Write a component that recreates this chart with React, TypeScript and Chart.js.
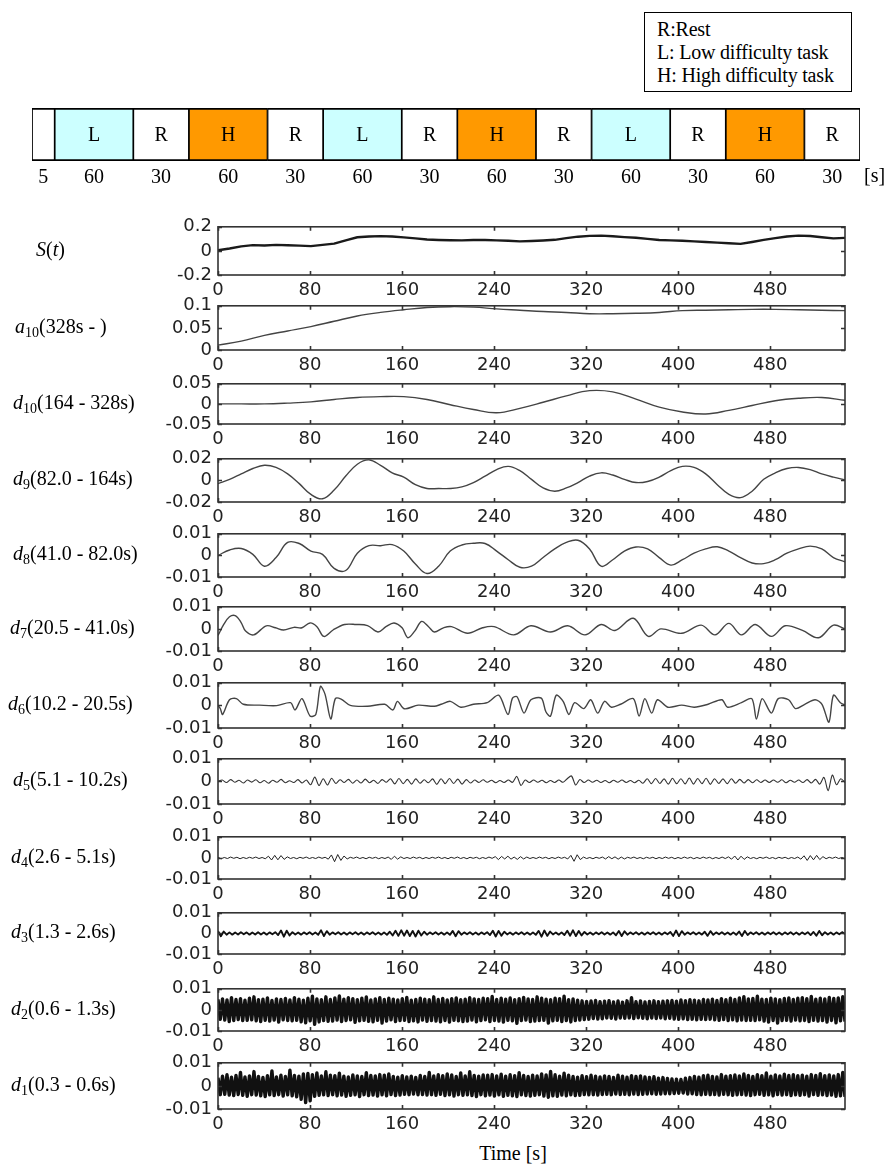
import React, { useEffect, useRef } from 'react';
import { Chart, registerables } from 'chart.js';

Chart.register(...registerables);

// ---------------- data ----------------
const X_MAX = 545;
const xTickValues = [0, 80, 160, 240, 320, 400, 480];

const taskTypes = ['', 'L', 'R', 'H', 'R', 'L', 'R', 'H', 'R', 'L', 'R', 'H', 'R'];
const taskDurations = [5, 60, 30, 60, 30, 60, 30, 60, 30, 60, 30, 60, 30];
const legendLines = ['R:Rest', 'L: Low difficulty task', 'H: High difficulty task'];

// S(t) raw signal (uniformly spaced over 0..545 s)
const sValues = [0.005,0.02,0.038,0.048,0.045,0.05,0.047,0.044,0.04,0.05,0.06,0.088,0.113,0.12,0.123,0.119,0.112,0.104,0.095,0.091,0.089,0.087,0.09,0.091,0.087,0.084,0.079,0.082,0.086,0.092,0.106,0.118,0.125,0.127,0.121,0.114,0.109,0.1,0.091,0.087,0.084,0.079,0.074,0.069,0.064,0.058,0.074,0.091,0.106,0.119,0.127,0.124,0.113,0.104,0.108];

const a10Values = [0.011,0.02,0.033,0.043,0.053,0.065,0.077,0.085,0.091,0.096,0.098,0.097,0.093,0.09,0.087,0.085,0.082,0.082,0.083,0.085,0.089,0.09,0.091,0.092,0.092,0.091,0.09,0.089];

const d10Values = [0,0,0,0.002,0.005,0.011,0.016,0.018,0.018,0.011,-0.002,-0.014,-0.022,-0.011,0.004,0.02,0.033,0.03,0.012,-0.008,-0.02,-0.025,-0.016,-0.004,0.008,0.014,0.016,0.009];

const d9Values = [-0.003,0.001,0.006,0.011,0.014,0.012,0.006,-0.003,-0.013,-0.017,-0.009,0.004,0.015,0.019,0.014,0.007,0.003,-0.004,-0.0075,-0.0075,-0.0075,-0.006,-0.002,0.004,0.01,0.013,0.009,0.001,-0.007,-0.01,-0.007,-0.002,0.004,0.007,0.005,0.001,-0.002,-0.001,0.003,0.009,0.013,0.012,0.006,-0.004,-0.013,-0.016,-0.01,0.001,0.007,0.011,0.012,0.01,0.006,0.003,0.0005];

const d8Values = [0,0.0025,0.0032,0.0005,-0.005,-0.001,0.006,0.0055,0.002,0.0005,-0.006,-0.007,0.001,0.0045,0.0045,0.005,0.002,-0.004,-0.0084,-0.005,0.002,0.0048,0.0056,0.0055,0.002,-0.002,-0.0055,-0.005,-0.001,0.003,0.006,0.007,0.003,-0.005,-0.002,0.002,0.0039,0.003,-0.001,-0.0045,-0.002,0.001,0.003,0.004,0.002,-0.001,-0.0035,-0.0038,-0.002,0.001,0.003,0.0043,0.003,-0.001,-0.003];

const d7Times = [0,5,10,15,20,24,31,42,50,57,66,73,80,86,92,100,110,120,130,139,146,153,160,165,171,177,183,188,196,203,217,230,240,257,272,289,304,319,333,345,361,374,385,403,420,432,444,455,467,481,493,508,522,535,545];
const d7Values = [-0.003,0.002,0.0055,0.006,0.003,-0.001,-0.0027,0.0014,0.0005,-0.0005,0.0007,0.0005,0.0027,0.001,-0.0034,-0.0005,0.002,0.002,0.0015,-0.0014,0.001,0.0027,0.0005,-0.004,-0.001,0.0034,0.001,-0.0014,0.0005,0.001,-0.002,0.0005,0.001,-0.0027,0.0014,-0.0014,0.0014,-0.0027,0.002,-0.0007,0.0048,-0.0034,0,-0.002,0.0017,-0.0027,0.0025,-0.0027,0.002,-0.0034,0.0014,-0.0007,-0.004,0.0017,0];

const d6Times = [0,2,4,10,16,22,36,51,63,67,73,80,85,89,93,98,102,107,115,130,145,152,156,162,174,188,194,202,211,222,234,244,252,256,260,266,272,281,285,289,294,300,305,310,318,324,330,336,342,350,361,366,371,377,382,391,403,414,426,438,443,455,464,468,473,481,487,496,502,510,519,525,531,535,541,545];
const d6Values = [0,-0.0014,-0.004,0.0025,0.003,0.0005,0.0001,-0.0001,0.0012,-0.002,0.003,-0.0047,-0.004,0.0084,0.005,-0.006,0.003,0.0028,0,-0.0004,0.0005,-0.002,0.0018,-0.0015,0.0001,-0.0004,0.0005,0.0018,-0.0008,0.0005,0.0012,0.0045,-0.004,0.0032,0.0038,-0.0034,0.0025,0.0032,-0.0028,-0.0047,0.0045,0.0018,-0.004,0.0012,-0.0014,0.0025,-0.0034,0.0018,-0.0008,0.0005,0.003,-0.0047,0.003,-0.0034,0.0025,-0.0008,0.0001,-0.0008,0.0005,0.0025,-0.0008,0.0012,0.003,-0.006,0.003,-0.0034,0.003,0.0025,-0.0014,0.0005,0.0025,0.0005,-0.0074,0.0045,0.0012,0.0001];

const d5Values = [
  0,0.0006,-0.0005,0.0008,-0.0004,0.0005,-0.0007,0.0006,-0.0003,0.0007,-0.0006,0.0004,-0.0008,0.0005,-0.0004,0.0009,-0.0006,0.0003,-0.0005,0.0008,-0.0007,0.0006,
  -0.0015,0.0019,-0.0018,0.0012,-0.0016,0.0014,-0.0009,
  0.0007,-0.0005,0.0009,-0.0008,0.0006,-0.0007,0.001,-0.0006,0.0005,-0.0009,0.0008,-0.0004,
  0.0012,-0.0011,0.0013,-0.001,0.0009,-0.0012,0.0011,-0.0008,0.0007,-0.0006,
  0.0011,-0.0013,0.0012,-0.001,0.0013,-0.0009,0.001,-0.0012,0.0008,-0.0007,
  0.0006,-0.0005,0.0007,-0.0004,0.0005,-0.0006,0.0004,-0.0005,0.0006,-0.0004,
  0.0022,-0.0018,0.0006,
  -0.0005,0.0006,-0.0004,0.0005,-0.0006,0.0004,-0.0005,0.0006,-0.0004,
  0.0012,0.0024,-0.0016,0.0008,
  -0.0005,0.0006,-0.0004,0.0005,-0.0005,0.0004,-0.0006,0.0005,-0.0004,0.0006,-0.0005,0.0004,-0.0006,0.0005,
  -0.0008,0.0012,-0.001,0.0013,-0.0009,0.0011,-0.0012,0.0014,-0.001,0.0012,-0.0011,0.0015,-0.0012,0.0013,-0.001,0.0014,-0.0013,0.0012,-0.0009,0.0011,-0.001,0.0012,-0.0008,0.0009,-0.0007,0.0008,-0.0006,0.0007,-0.0005,0.0006,
  -0.0005,0.0006,-0.0004,0.0007,-0.0006,0.0005,-0.0004,0.0006,-0.0005,0.0008,-0.0007,0.0009,
  -0.0012,0.0018,-0.0041,0.0028,-0.0015,0.0012,-0.0005
];

const d4Values = [
  0.0003,-0.0004,0.0002,-0.0003,0.0004,-0.0002,0.0003,-0.0004,0.0002,-0.0003,
  0.0003,-0.0002,0.0004,-0.0003,0.0002,-0.0004,0.0008,-0.001,0.0012,-0.0009,
  0.0011,-0.0007,0.0005,-0.0003,0.0002,-0.0004,0.0003,-0.0002,0.0004,-0.0003,
  0.0002,-0.0003,0.0004,-0.0002,0.0003,-0.0006,0.0014,-0.0018,0.0016,-0.0012,
  0.0009,-0.0005,0.0003,-0.0002,0.0004,-0.0003,0.0002,-0.0004,0.0003,-0.0002,
  0.0003,-0.0004,0.0002,-0.0003,0.0004,-0.0007,0.0008,-0.0006,0.0005,-0.0003,
  0.0002,-0.0003,0.0004,-0.0002,0.0003,-0.0004,0.0002,-0.0003,0.0003,-0.0002,
  0.0004,-0.0003,0.0002,-0.0004,0.0003,-0.0002,0.0004,-0.0003,0.0002,-0.0004,
  0.0003,-0.0002,0.0003,-0.0004,0.0002,-0.0003,0.0004,-0.0002,0.0006,-0.0008,
  0.0007,-0.0005,0.0008,-0.0006,0.0004,-0.0007,0.0006,-0.0005,0.0004,-0.0003,
  0.0002,-0.0003,0.0004,-0.0002,0.0003,-0.0004,0.0002,-0.0003,0.0004,-0.0002,
  0.0003,-0.0005,0.0012,-0.0016,0.0015,-0.0008,0.0004,-0.0003,0.0002,-0.0004,
  0.0003,-0.0002,0.0004,-0.0005,0.0006,-0.0004,0.0005,-0.0006,0.0004,-0.0005,
  0.0003,-0.0002,0.0004,-0.0003,0.0002,-0.0004,0.0003,-0.0002,0.0003,-0.0004,
  0.0002,-0.0003,0.0004,-0.0002,0.0003,-0.0004,0.0002,-0.0003,0.0004,-0.0002,
  0.0003,-0.0004,0.0002,-0.0003,0.0004,-0.0002,0.0003,-0.0004,0.0002,-0.0003,
  0.0004,-0.0003,0.0005,-0.0006,0.0009,-0.001,0.0008,-0.0007,0.0005,-0.0003,
  0.0002,-0.0004,0.0003,-0.0002,0.0004,-0.0003,0.0002,-0.0004,0.0003,-0.0002,
  0.0003,-0.0004,0.0002,-0.0003,0.0004,-0.0006,0.001,-0.0012,0.0011,-0.0009,
  0.0012,-0.0008,0.0006,-0.0004,0.0003,-0.0002,0.0004,-0.0003,0.0002,-0.0003
];

const d3Values = [
  0.0012,-0.0014,0.0009,-0.0006,0.0005,-0.0006,0.0004,-0.0005,0.0006,-0.0004,
  0.0005,-0.0006,0.0004,-0.0005,0.0006,-0.0005,0.0004,-0.0006,0.0005,-0.0004,
  0.0006,-0.0008,0.0014,-0.0016,0.0013,-0.001,0.0006,-0.0005,0.0004,-0.0006,
  0.0005,-0.0004,0.0006,-0.0005,0.0004,-0.0007,0.0015,-0.0013,0.0011,-0.0006,
  0.0005,-0.0004,0.0006,-0.0005,0.0004,-0.0006,0.0005,-0.0004,0.0006,-0.0005,
  0.0004,-0.0006,0.0005,-0.0004,0.0006,-0.0005,0.0004,-0.0006,0.0005,-0.0007,
  0.0008,-0.001,0.0013,-0.0012,0.0015,-0.0011,0.0014,-0.0013,0.0012,-0.0015,
  0.0013,-0.001,0.0008,-0.0006,0.0005,-0.0004,0.0006,-0.0005,0.0004,-0.0006,
  0.0005,-0.0007,0.0012,-0.0014,0.0011,-0.0006,0.0005,-0.0004,0.0006,-0.0005,
  0.0004,-0.0006,0.0005,-0.0004,0.0006,-0.0008,0.0013,-0.0015,0.0012,-0.0011,
  0.0008,-0.0005,0.0004,-0.0006,0.0005,-0.0004,0.0006,-0.0005,0.0004,-0.0006,
  0.0005,-0.0007,0.0012,-0.0016,0.0014,-0.0012,0.0009,-0.0005,0.0004,-0.0006,
  0.0005,-0.0008,0.0013,-0.0011,0.0015,-0.0013,0.0012,-0.001,0.0007,-0.0005,
  0.0004,-0.0006,0.0005,-0.0004,0.0006,-0.0005,0.0004,-0.0006,0.0005,-0.0009,
  0.0012,-0.0013,0.001,-0.0006,0.0005,-0.0004,0.0006,-0.0005,0.0004,-0.0006,
  0.0005,-0.0004,0.0006,-0.0005,0.0004,-0.0006,0.0005,-0.0004,0.0007,-0.0012,
  0.0014,-0.0013,0.0011,-0.0006,0.0005,-0.0004,0.0006,-0.0005,0.0004,-0.0006,
  0.0008,-0.0012,0.0011,-0.0007,0.0005,-0.0004,0.0006,-0.0005,0.0004,-0.0006,
  0.0005,-0.0007,0.0009,-0.0013,0.0012,-0.0008,0.0005,-0.0004,0.0006,-0.0005,
  0.0004,-0.0006,0.0005,-0.0004,0.0006,-0.0005,0.0004,-0.0006,0.0005,-0.0004,
  0.0006,-0.0005,0.0004,-0.0006,0.0005,-0.0004,0.0006,-0.0008,0.0007,-0.0011,
  0.0012,-0.0009,0.0006,-0.0005,0.0004,-0.0006,0.0005,-0.0004,0.0006,-0.0003
];

const d2Values = [
  0.005,-0.0045,0.0052,-0.0048,0.0047,-0.0055,0.0058,-0.005,0.0049,-0.0046,
  0.0053,-0.0051,0.0046,-0.0049,0.0055,-0.0047,0.0062,-0.0052,0.0048,-0.0055,
  0.0051,-0.0049,0.0057,-0.0053,0.0045,-0.0048,0.0052,-0.0058,0.0049,-0.0047,
  0.0054,-0.005,0.0047,-0.0052,0.0058,-0.0049,0.0051,-0.0056,0.0046,-0.0061,
  0.0055,-0.0052,0.0065,-0.0068,0.0052,-0.0057,0.0048,-0.0051,0.0062,-0.0054,
  0.0049,-0.0053,0.0057,-0.0048,0.0066,-0.0055,0.0051,-0.005,0.0058,-0.0047,
  0.0053,-0.0059,0.0048,-0.0052,0.0056,-0.0049,0.0061,-0.0054,0.0047,-0.0056,
  0.0052,-0.0049,0.0058,-0.0062,0.0049,-0.0053,0.0055,-0.0047,0.0051,-0.0055,
  0.0047,-0.0051,0.0053,-0.0049,0.0059,-0.0055,0.0046,-0.0052,0.005,-0.0057,
  0.0056,-0.0048,0.0051,-0.0054,0.0048,-0.0051,0.0062,-0.0053,0.0049,-0.0056,
  0.0054,-0.005,0.0047,-0.0058,0.0053,-0.0049,0.0057,-0.0052,0.0048,-0.0055,
  0.0051,-0.0053,0.0058,-0.0048,0.0052,-0.0056,0.0049,-0.0051,0.0055,-0.0047,
  0.0053,-0.0055,0.0064,-0.005,0.0049,-0.0053,0.0056,-0.0058,0.0051,-0.0049,
  0.0057,-0.0052,0.0048,-0.0064,0.0053,-0.0051,0.0059,-0.0048,0.0052,-0.0055,
  0.0049,-0.0053,0.0062,-0.0051,0.0055,-0.0049,0.0051,-0.0062,0.0048,-0.0052,
  0.0056,-0.0049,0.0053,-0.0055,0.0065,-0.0051,0.0048,-0.0057,0.0052,-0.005,
  0.0046,-0.0048,0.0043,-0.0046,0.004,-0.0044,0.0042,-0.0041,0.0045,-0.0043,
  0.0039,-0.0042,0.0041,-0.0038,0.0044,-0.004,0.0038,-0.0043,0.0042,-0.0039,
  0.0037,-0.004,0.0043,-0.0038,0.0058,-0.0041,0.0039,-0.0037,0.0042,-0.004,
  0.0038,-0.0042,0.004,-0.0039,0.0043,-0.0041,0.0039,-0.0038,0.0041,-0.0042,
  0.0043,-0.004,0.0045,-0.0043,0.0041,-0.0045,0.0047,-0.0042,0.0044,-0.0046,
  0.0048,-0.0044,0.0046,-0.0047,0.0043,-0.0045,0.005,-0.0046,0.0047,-0.0044,
  0.0051,-0.0047,0.0045,-0.0049,0.0053,-0.0046,0.0048,-0.0051,0.0055,-0.0047,
  0.0049,-0.0052,0.0057,-0.0048,0.0063,-0.005,0.0052,-0.0049,0.0054,-0.0051,
  0.0065,-0.0047,0.0051,-0.0053,0.0049,-0.0058,0.0056,-0.005,0.0052,-0.0062,
  0.0048,-0.0051,0.0054,-0.0049,0.0057,-0.0053,0.005,-0.0048,0.0055,-0.0052,
  0.0058,-0.005,0.0053,-0.0055,0.0064,-0.0049,0.0051,-0.0053,0.0056,-0.0051,
  0.0052,-0.0058,0.0059,-0.005,0.0054,-0.0061,0.0057,-0.0052,0.0063,-0.0055
];

const d1Values = [
  0.0035,-0.0038,0.0042,-0.0036,0.0048,-0.004,0.0038,-0.0042,0.0045,-0.0037,
  0.0058,-0.0041,0.0039,-0.0045,0.0043,-0.0038,0.0062,-0.004,0.0041,-0.0043,
  0.0037,-0.0046,0.0044,-0.0039,0.0065,-0.0042,0.0039,-0.0038,0.0046,-0.0044,
  0.0041,-0.0039,0.0068,-0.0043,0.0045,-0.0047,0.0042,-0.0058,0.0052,-0.0072,
  0.0054,-0.0065,0.0049,-0.0045,0.0056,-0.0041,0.0043,-0.0039,0.0061,-0.0042,
  0.0046,-0.0038,0.0044,-0.0043,0.0055,-0.004,0.0042,-0.0045,0.0039,-0.0041,
  0.0047,-0.0039,0.0043,-0.0046,0.0041,-0.0038,0.0057,-0.0042,0.0045,-0.004,
  0.0043,-0.0044,0.0049,-0.0039,0.0046,-0.0043,0.0052,-0.0037,0.0041,-0.0042,
  0.0038,-0.004,0.0044,-0.0036,0.0039,-0.0038,0.0042,-0.0035,0.0037,-0.0039,
  0.0045,-0.0037,0.0041,-0.004,0.0058,-0.0038,0.0043,-0.0041,0.0048,-0.0036,
  0.0044,-0.0042,0.0052,-0.0039,0.0047,-0.0044,0.0041,-0.0038,0.0056,-0.0041,
  0.0043,-0.0039,0.0061,-0.0042,0.0045,-0.0046,0.0042,-0.0038,0.0047,-0.0043,
  0.0046,-0.004,0.0049,-0.0044,0.0043,-0.0039,0.0051,-0.0045,0.0042,-0.0041,
  0.0048,-0.0043,0.0044,-0.0046,0.0057,-0.0039,0.0045,-0.0042,0.0041,-0.0044,
  0.0046,-0.0041,0.0043,-0.0038,0.0052,-0.0044,0.0047,-0.0049,0.0063,-0.0043,
  0.0048,-0.0045,0.0042,-0.004,0.0055,-0.0043,0.0046,-0.0039,0.0041,-0.0042,
  0.0038,-0.0041,0.0044,-0.0037,0.004,-0.0039,0.0046,-0.0038,0.0042,-0.004,
  0.0039,-0.0037,0.0043,-0.0036,0.0041,-0.0038,0.0037,-0.0035,0.0046,-0.0037,
  0.0042,-0.0036,0.0038,-0.0039,0.0044,-0.0035,0.0041,-0.0037,0.0043,-0.0036,
  0.0039,-0.0035,0.0037,-0.0034,0.004,-0.0036,0.0033,-0.0035,0.0036,-0.0034,
  0.0032,-0.0034,0.003,-0.0033,0.0029,-0.0032,0.0028,-0.0031,0.0033,-0.0035,
  0.0036,-0.0034,0.0041,-0.0037,0.0038,-0.0039,0.0044,-0.0036,0.0046,-0.0038,
  0.0041,-0.0037,0.0039,-0.004,0.0049,-0.0036,0.0042,-0.0038,0.0044,-0.0041,
  0.0047,-0.0039,0.0043,-0.0037,0.0052,-0.004,0.0045,-0.0042,0.0041,-0.0038,
  0.0048,-0.0036,0.0044,-0.0041,0.0056,-0.0039,0.0042,-0.0043,0.0047,-0.0037,
  0.0043,-0.004,0.0051,-0.0038,0.0045,-0.0042,0.0048,-0.0039,0.0044,-0.0041,
  0.0046,-0.0038,0.0042,-0.0044,0.0049,-0.0037,0.0045,-0.0041,0.0053,-0.0039,
  0.0044,-0.0042,0.0047,-0.004,0.0043,-0.0045,0.0049,-0.0043,0.0058,-0.0047
];

const yTicksS = [-0.2, 0, 0.2];
const yLabelsS = ['-0.2', '0', '0.2'];
const yTicksA10 = [0, 0.05, 0.1];
const yLabelsA10 = ['0', '0.05', '0.1'];
const yTicksD10 = [-0.05, 0, 0.05];
const yLabelsD10 = ['-0.05', '0', '0.05'];
const yTicksD9 = [-0.02, 0, 0.02];
const yLabelsD9 = ['-0.02', '0', '0.02'];
const yTicksSmall = [-0.01, 0, 0.01];
const yLabelsSmall = ['-0.01', '0', '0.01'];

// panel specs: [variable, subscript, range text]
const panels = [
  { v: 'S', sub: '', arg: 't', values: sValues, times: null, yt: yTicksS, yl: yLabelsS, color: '#1a1a1a', lw: 2.4, tension: 0 },
  { v: 'a', sub: '10', arg: '(328s - )', values: a10Values, times: null, yt: yTicksA10, yl: yLabelsA10, color: '#444', lw: 1.4, tension: 0.4 },
  { v: 'd', sub: '10', arg: '(164 - 328s)', values: d10Values, times: null, yt: yTicksD10, yl: yLabelsD10, color: '#444', lw: 1.4, tension: 0.4 },
  { v: 'd', sub: '9', arg: '(82.0 - 164s)', values: d9Values, times: null, yt: yTicksD9, yl: yLabelsD9, color: '#444', lw: 1.4, tension: 0.4 },
  { v: 'd', sub: '8', arg: '(41.0 - 82.0s)', values: d8Values, times: null, yt: yTicksSmall, yl: yLabelsSmall, color: '#444', lw: 1.4, tension: 0.4 },
  { v: 'd', sub: '7', arg: '(20.5 - 41.0s)', values: d7Values, times: d7Times, yt: yTicksSmall, yl: yLabelsSmall, color: '#444', lw: 1.4, tension: 0.35 },
  { v: 'd', sub: '6', arg: '(10.2 - 20.5s)', values: d6Values, times: d6Times, yt: yTicksSmall, yl: yLabelsSmall, color: '#444', lw: 1.4, tension: 0.3 },
  { v: 'd', sub: '5', arg: '(5.1 - 10.2s)', values: d5Values, times: null, yt: yTicksSmall, yl: yLabelsSmall, color: '#333', lw: 1.1, tension: 0.3 },
  { v: 'd', sub: '4', arg: '(2.6 - 5.1s)', values: d4Values, times: null, yt: yTicksSmall, yl: yLabelsSmall, color: '#222', lw: 1.0, tension: 0 },
  { v: 'd', sub: '3', arg: '(1.3 - 2.6s)', values: d3Values, times: null, yt: yTicksSmall, yl: yLabelsSmall, color: '#111', lw: 1.9, tension: 0 },
  { v: 'd', sub: '2', arg: '(0.6 - 1.3s)', values: d2Values, times: null, yt: yTicksSmall, yl: yLabelsSmall, color: '#111', lw: 3.4, tension: 0 },
  { v: 'd', sub: '1', arg: '(0.3 - 0.6s)', values: d1Values, times: null, yt: yTicksSmall, yl: yLabelsSmall, color: '#111', lw: 3.4, tension: 0 },
];

// ---------------- layout ----------------
const W = 888;
const H = 1164;
const PLOT_LEFT = 218;
const PLOT_RIGHT = 845;
const PAD_TOP = 12;
const X_AXIS_H = 28;
const panelBox = [
  [222, 275], [301, 350], [379, 424], [454, 502], [529, 577], [602, 651],
  [678, 728], [754, 804], [832, 879], [908, 954], [984, 1031], [1058, 1109],
];
const labelLeft = [36, 15, 13, 13, 13, 10, 8, 13, 11, 11, 11, 11];
const TICK_FONT = { family: '"DejaVu Sans", sans-serif', size: 18 };
const SERIF = '"Liberation Serif", "Times New Roman", serif';

const framePlugin = {
  id: 'frameTicks',
  afterDraw(chart: any) {
    const { ctx, chartArea: a, scales } = chart;
    ctx.save();
    ctx.strokeStyle = '#333';
    ctx.lineWidth = 1.6;
    ctx.strokeRect(a.left, a.top, a.right - a.left, a.bottom - a.top);
    ctx.beginPath();
    for (const t of scales.x.ticks) {
      const px = Math.round(scales.x.getPixelForValue(t.value)) + 0.5;
      ctx.moveTo(px, a.top); ctx.lineTo(px, a.top + 4);
      ctx.moveTo(px, a.bottom); ctx.lineTo(px, a.bottom - 4);
    }
    for (const t of scales.y.ticks) {
      const py = Math.round(scales.y.getPixelForValue(t.value)) + 0.5;
      ctx.moveTo(a.left, py); ctx.lineTo(a.left + 4, py);
      ctx.moveTo(a.right, py); ctx.lineTo(a.right - 4, py);
    }
    ctx.stroke();
    ctx.restore();
  },
};

function Panel({ idx }: { idx: number }) {
  const ref = useRef<HTMLCanvasElement>(null);
  const spec = panels[idx];
  const [top, bottom] = panelBox[idx];
  const ch = bottom - top + PAD_TOP + X_AXIS_H;
  useEffect(() => {
    const n = spec.values.length;
    const pts = spec.times
      ? spec.times.map((t: number, i: number) => ({ x: t, y: spec.values[i] }))
      : spec.values.map((v: number, i: number) => ({ x: (i * X_MAX) / (n - 1), y: v }));
    const chart = new Chart(ref.current as HTMLCanvasElement, {
      type: 'line',
      data: {
        datasets: [{
          data: pts,
          borderColor: spec.color,
          borderWidth: spec.lw,
          pointRadius: 0,
          tension: spec.tension,
          fill: false,
          borderJoinStyle: 'round',
        }],
      },
      options: {
        animation: false,
        responsive: false,
        maintainAspectRatio: false,
        events: [],
        layout: { padding: { top: PAD_TOP, right: W - PLOT_RIGHT, left: 0, bottom: 0 } },
        plugins: { legend: { display: false }, tooltip: { enabled: false } },
        scales: {
          x: {
            type: 'linear',
            min: 0,
            max: X_MAX,
            afterBuildTicks: (s: any) => { s.ticks = xTickValues.map((v) => ({ value: v })); },
            afterFit: (s: any) => { s.height = X_AXIS_H; },
            ticks: {
              font: TICK_FONT, color: '#222', padding: 5, maxRotation: 0, minRotation: 0, autoSkip: false,
              callback: (v: any) => String(v),
            },
            grid: { display: false, drawTicks: false },
            border: { display: false },
          },
          y: {
            type: 'linear',
            min: spec.yt[0],
            max: spec.yt[spec.yt.length - 1],
            afterBuildTicks: (s: any) => { s.ticks = spec.yt.map((v: number) => ({ value: v })); },
            afterFit: (s: any) => { s.width = PLOT_LEFT; },
            ticks: {
              font: TICK_FONT, color: '#222', padding: 6, autoSkip: false,
              callback: (_v: any, i: number) => spec.yl[i],
            },
            grid: { display: false, drawTicks: false },
            border: { display: false },
          },
        },
      },
      plugins: [framePlugin],
    } as any);
    return () => chart.destroy();
  }, []);
  return (
    <canvas
      ref={ref}
      width={W}
      height={ch}
      style={{ position: 'absolute', left: 0, top: top - PAD_TOP, width: W, height: ch }}
    />
  );
}

function PanelLabel({ idx }: { idx: number }) {
  const spec = panels[idx];
  const [top, bottom] = panelBox[idx];
  const cy = (top + bottom) / 2;
  return (
    <div
      style={{
        position: 'absolute', left: labelLeft[idx], top: cy - 12, height: 24, lineHeight: '24px',
        fontFamily: SERIF, fontSize: 20, color: '#000', whiteSpace: 'nowrap',
      }}
    >
      {spec.sub === '' ? (
        <span><i>{spec.v}</i>(<i>{spec.arg}</i>)</span>
      ) : (
        <span>
          <i>{spec.v}</i>
          <span style={{ fontSize: 14, position: 'relative', top: 4 }}>{spec.sub}</span>
          {spec.arg}
        </span>
      )}
    </div>
  );
}

const BAR_LEFT = 32;
const BAR_RIGHT = 860;
const BAR_TOP = 108;
const BAR_BOTTOM = 161;
const BAR_CANVAS_TOP = 98;
const BAR_CANVAS_H = 94;

const taskColor = (t: string) => (t === 'L' ? '#ccffff' : t === 'H' ? '#ff9900' : '#ffffff');

const taskTextPlugin = {
  id: 'taskText',
  afterDatasetsDraw(chart: any) {
    const { ctx } = chart;
    ctx.save();
    ctx.fillStyle = '#000';
    ctx.textAlign = 'center';
    ctx.textBaseline = 'middle';
    ctx.font = `20px ${SERIF}`;
    chart.data.datasets.forEach((_ds: any, i: number) => {
      const el = chart.getDatasetMeta(i).data[0];
      const cx = (el.x + el.base) / 2;
      if (taskTypes[i]) ctx.fillText(taskTypes[i], cx, el.y + 1);
      ctx.fillText(String(taskDurations[i]), cx, chart.chartArea.bottom + 17);
    });
    ctx.textAlign = 'left';
    ctx.fillText('[s]', BAR_RIGHT + 4, chart.chartArea.bottom + 16);
    ctx.restore();
  },
};

function TaskBar() {
  const ref = useRef<HTMLCanvasElement>(null);
  useEffect(() => {
    // the schematic bar uses a compressed (square-root) width for each period
    const widths = taskDurations.map((d) => Math.sqrt(d));
    const total = widths.reduce((a, b) => a + b, 0);
    const chart = new Chart(ref.current as HTMLCanvasElement, {
      type: 'bar',
      data: {
        labels: ['task'],
        datasets: taskTypes.map((t, i) => ({
          label: t || 'pre',
          data: [widths[i]],
          backgroundColor: taskColor(t),
          borderColor: '#000',
          borderWidth: { top: 2, bottom: 2, left: 1.2, right: 1.2 },
          borderSkipped: false,
          barPercentage: 1,
          categoryPercentage: 1,
        })),
      },
      options: {
        indexAxis: 'y',
        animation: false,
        responsive: false,
        events: [],
        layout: {
          padding: {
            left: BAR_LEFT, right: W - BAR_RIGHT,
            top: BAR_TOP - BAR_CANVAS_TOP, bottom: BAR_CANVAS_TOP + BAR_CANVAS_H - BAR_BOTTOM,
          },
        },
        plugins: { legend: { display: false }, tooltip: { enabled: false } },
        scales: {
          x: { stacked: true, display: false, min: 0, max: total },
          y: { stacked: true, display: false },
        },
      },
      plugins: [taskTextPlugin],
    } as any);
    return () => chart.destroy();
  }, []);
  return (
    <canvas
      ref={ref}
      width={W}
      height={BAR_CANVAS_H}
      style={{ position: 'absolute', left: 0, top: BAR_CANVAS_TOP, width: W, height: BAR_CANVAS_H }}
    />
  );
}

export default function App() {
  return (
    <div style={{ position: 'absolute', left: 0, top: 0, width: W, height: H, background: '#fff', overflow: 'hidden' }}>
      <div
        style={{
          position: 'absolute', left: 644, top: 12, width: 208, height: 80, boxSizing: 'border-box',
          border: '1.5px solid #000', padding: '5px 0 0 12px', fontFamily: SERIF, fontSize: 20,
          lineHeight: '23px', color: '#000', whiteSpace: 'nowrap', letterSpacing: '-0.2px',
        }}
      >
        {legendLines.map((l) => (<div key={l}>{l}</div>))}
      </div>
      <TaskBar />
      {panels.map((_p, i) => (<Panel key={'p' + i} idx={i} />))}
      {panels.map((_p, i) => (<PanelLabel key={'l' + i} idx={i} />))}
      <div
        style={{
          position: 'absolute', left: 463, width: 100, top: 1141, textAlign: 'center',
          fontFamily: SERIF, fontSize: 20, lineHeight: '24px', color: '#000',
        }}
      >
        Time [s]
      </div>
    </div>
  );
}
